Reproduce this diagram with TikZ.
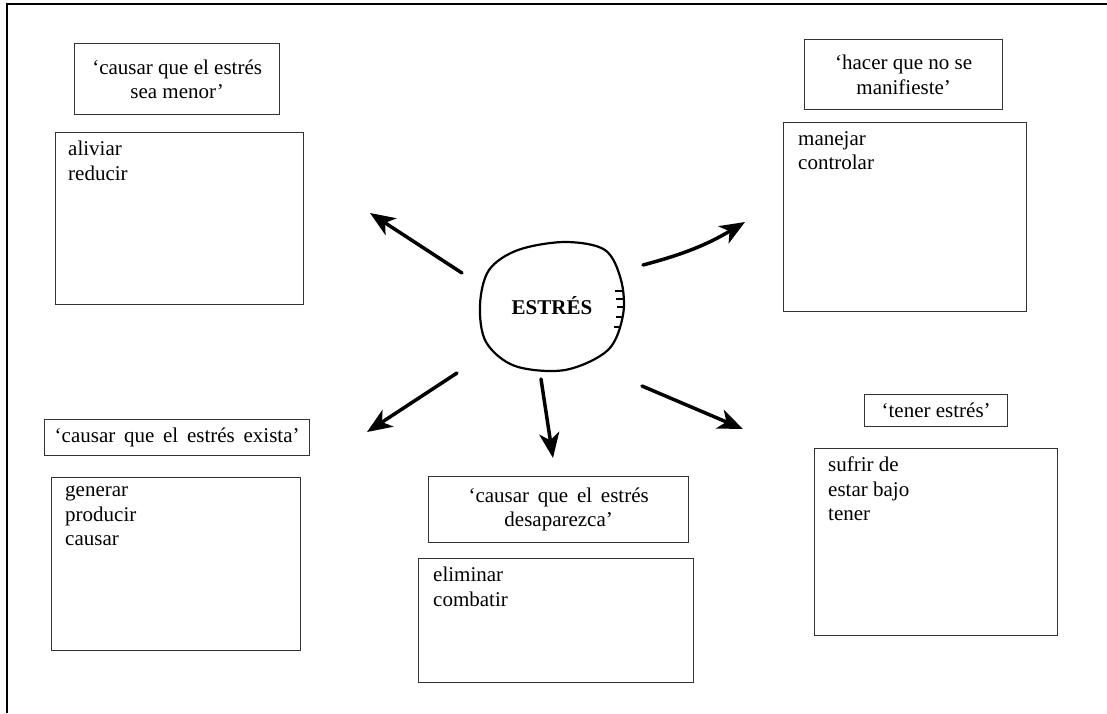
\documentclass[tikz,border=0pt]{standalone}
\usepackage{fontspec}
\setmainfont{Liberation Serif}
\usetikzlibrary{arrows.meta}
\begin{document}
\begin{tikzpicture}[x=1pt,y=-1pt,
  txt/.style={font=\fontsize{21}{24.5}\selectfont},
  tagbox/.style={draw=black!80, line width=1.3pt, rectangle, inner sep=0pt,
    align=center, anchor=north west, txt},
  listbox/.style={draw=black!80, line width=1.3pt, rectangle, inner sep=0pt,
    anchor=north west},
  listtext/.style={anchor=north west, inner sep=0pt, align=left, txt},
  bigarrow/.style={line width=3.5pt, line cap=round,
    -{Stealth[length=25pt,width=20pt,inset=7pt]}},
]
\useasboundingbox (0,0) rectangle (1107,713);
\fill[white] (0,0) rectangle (1107,713);
% page frame (left and top edges)
\draw[line width=2pt] (7,713) -- (7,4) -- (1107,4);

% upper left group
\node[tagbox, minimum width=205pt, minimum height=71pt] (tagA) at (74,43)
  {‘causar que el estrés\\sea menor’};
\node[listbox, minimum width=248pt, minimum height=172pt] (boxA) at (55,132) {};
\node[listtext] (listA) at ([xshift=13pt,yshift=-9pt]boxA.north west)
  {aliviar\\reducir};

% upper right group
\node[tagbox, minimum width=198pt, minimum height=70pt] (tagB) at (804,39)
  {‘hacer que no se\\manifieste’};
\node[listbox, minimum width=243pt, minimum height=189pt] (boxB) at (783,122) {};
\node[listtext] (listB) at ([xshift=15pt,yshift=-9pt]boxB.north west)
  {manejar\\controlar};

% lower left group
\node[tagbox, minimum width=265pt, minimum height=36pt] (tagC) at (44,419)
  {‘causar\, que\, el\, estrés\, exista’};
\node[listbox, minimum width=249pt, minimum height=173pt] (boxC) at (51,477) {};
\node[listtext] (listC) at ([xshift=14pt,yshift=-9pt]boxC.north west)
  {generar\\producir\\causar};

% lower middle group
\node[tagbox, minimum width=260pt, minimum height=66pt] (tagD) at (428,476)
  {‘causar\, que\, el\, estrés\\desaparezca’};
\node[listbox, minimum width=275pt, minimum height=124pt] (boxD) at (418,558) {};
\node[listtext] (listD) at ([xshift=15pt,yshift=-9pt]boxD.north west)
  {eliminar\\combatir};

% lower right group
\node[tagbox, minimum width=143pt, minimum height=32pt] (tagE) at (864,394)
  {‘tener estrés’};
\node[listbox, minimum width=243pt, minimum height=187pt] (boxE) at (814,448) {};
\node[listtext] (listE) at ([xshift=14pt,yshift=-9pt]boxE.north west)
  {sufrir de\\estar bajo\\tener};

% central hand-drawn outline
\draw[line width=2.2pt, line join=round] plot[smooth cycle, tension=0.55] coordinates {
  (480,305) (489,270) (518,250) (565,242) (605,250) (621,280) (623,315)
  (608,350) (565,370) (515,366) (486,342)};
\foreach \yy/\xa/\xb in {291/615/623, 299/616/624, 307/617/624, 317/616/623, 327/614/621}
  \draw[line width=1.1pt] (\xa,\yy) -- (\xb,\yy);
\node[font=\fontsize{21}{24}\selectfont\bfseries, inner sep=0pt] (core) at (552,306) {ESTRÉS};

% arrows
\coordinate (t1) at (462,273); \coordinate (h1) at (370,213);
\coordinate (t2) at (643,265); \coordinate (h2) at (745,222);
\coordinate (t3) at (457,373); \coordinate (h3) at (367,432);
\coordinate (t4) at (541,379); \coordinate (h4) at (553,458);
\coordinate (t5) at (642,386); \coordinate (h5) at (743,429);
\draw[bigarrow] (t1) -- (h1);
\draw[bigarrow] (t2) to[bend right=8] (h2);
\draw[bigarrow] (t3) -- (h3);
\draw[bigarrow] (t4) -- (h4);
\draw[bigarrow] (t5) -- (h5);
\end{tikzpicture}
\end{document}
